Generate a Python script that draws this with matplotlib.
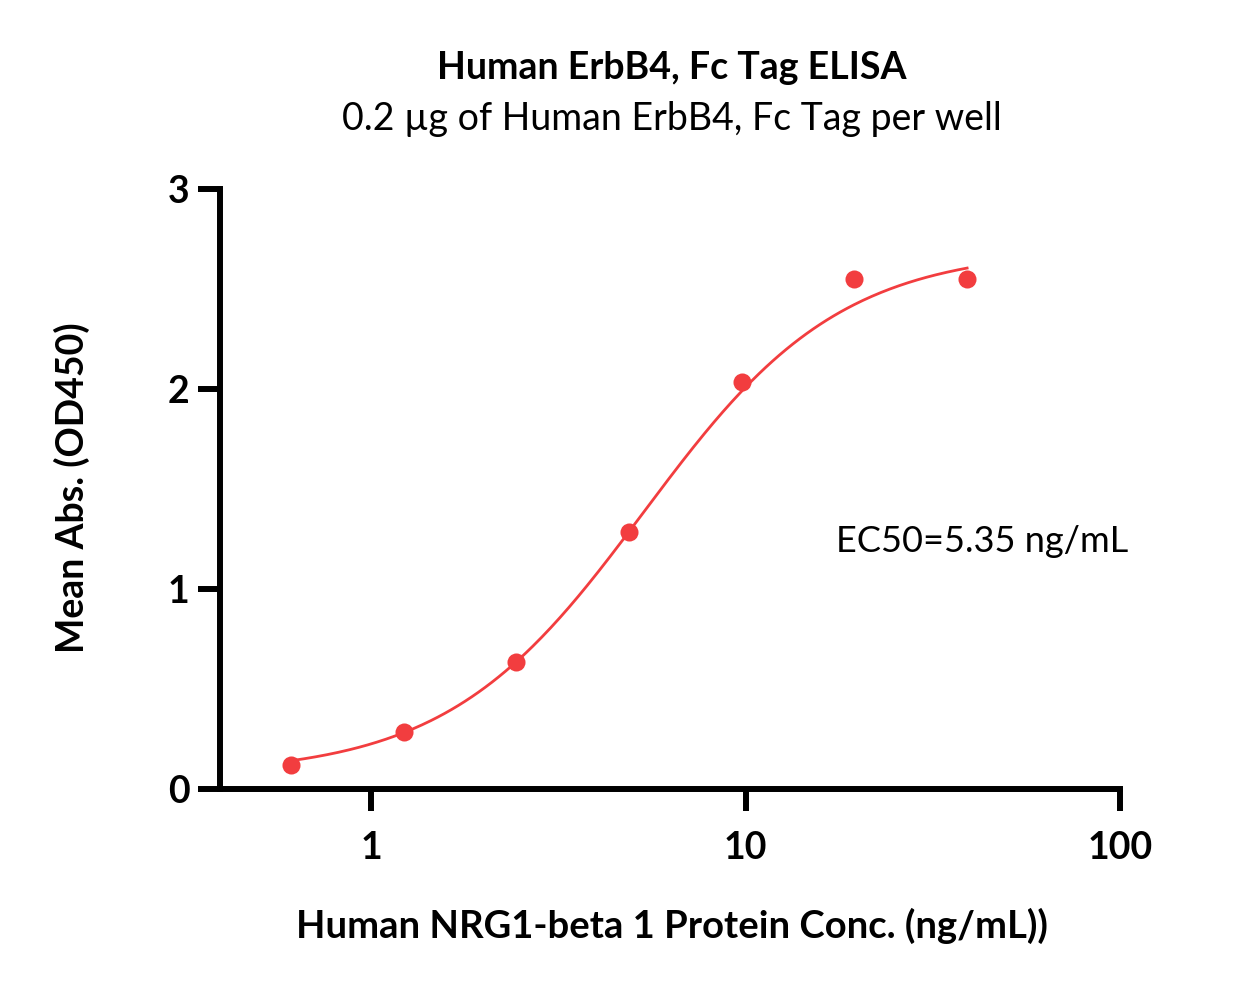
import numpy as np
import matplotlib

matplotlib.use("Agg")
import matplotlib.pyplot as plt
from matplotlib.ticker import FixedLocator, NullLocator

# ELISA data: NRG1-beta 1 concentration (ng/mL) vs mean OD450
conc = [0.610, 1.221, 2.441, 4.883, 9.766, 19.53, 39.06]
od450 = [0.12, 0.285, 0.635, 1.285, 2.035, 2.55, 2.55]

# 4PL fit parameters (EC50 from the chart annotation)
fit_bottom = 0.07
fit_top = 2.70
fit_ec50 = 5.35
fit_hill = 1.65

x_ticks = [1, 10, 100]
x_tick_labels = ["1", "10", "100"]
y_ticks = [0, 1, 2, 3]

RED = "#F23D3F"
plt.rcParams["font.family"] = ["Lato", "DejaVu Sans"]

fig = plt.figure(figsize=(12.45, 9.93), dpi=100)
ax = fig.add_axes([220 / 1245, 1 - 789 / 993, 900 / 1245, 600 / 993])

xs = np.logspace(np.log10(conc[0]), np.log10(conc[-1]), 300)
ys = fit_bottom + (fit_top - fit_bottom) / (1 + (fit_ec50 / xs) ** fit_hill)
ax.plot(xs, ys, color=RED, lw=2.0, zorder=2)
ax.plot(conc, od450, "o", color=RED, ms=13, mec="none", zorder=3, clip_on=False)

ax.set_xscale("log")
ax.set_xlim(0.395, 100)
ax.set_ylim(0, 3)
ax.xaxis.set_major_locator(FixedLocator(x_ticks))
ax.xaxis.set_minor_locator(NullLocator())
ax.set_xticklabels(x_tick_labels)
ax.set_yticks(y_ticks)

for side in ("top", "right"):
    ax.spines[side].set_visible(False)
for side in ("left", "bottom"):
    ax.spines[side].set_linewidth(4.3)
    ax.spines[side].set_capstyle("projecting")
ax.tick_params(width=4.3, length=16, labelsize=27)
ax.tick_params(axis="x", pad=14)
ax.tick_params(axis="y", pad=6)
for lbl in ax.get_xticklabels() + ax.get_yticklabels():
    lbl.set_fontweight("bold")

fig.text(0.5395, 1 - 68 / 993, "Human ErbB4, Fc Tag ELISA", ha="center", va="center",
         fontsize=27, fontweight="bold")
fig.text(0.5395, 1 - 119 / 993, "0.2 µg of Human ErbB4, Fc Tag per well", ha="center",
         va="center", fontsize=27)
fig.text(0.5395, 1 - 926 / 993, "Human NRG1-beta 1 Protein Conc. (ng/mL))", ha="center",
         va="center", fontsize=27.5, fontweight="bold")
fig.text(72 / 1245, 1 - 488 / 993, "Mean Abs. (OD450)", ha="center", va="center",
         rotation=90, fontsize=27, fontweight="bold")
fig.text(836 / 1245, 1 - 541 / 993, "EC50=5.35 ng/mL", ha="left", va="center", fontsize=26)

fig.savefig("out.png", dpi=100)
